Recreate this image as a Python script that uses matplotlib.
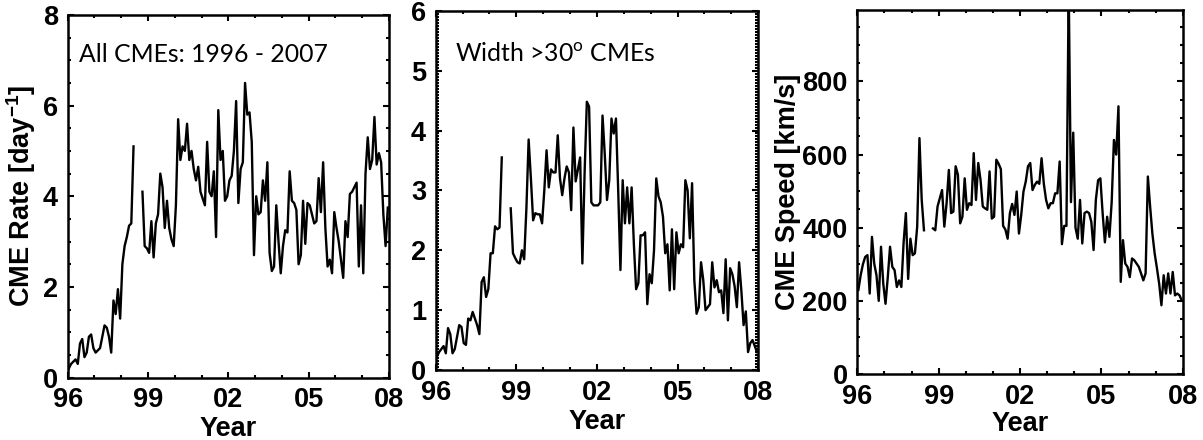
import matplotlib.pyplot as plt
import numpy as np
from matplotlib.ticker import MultipleLocator

plt.rcParams['font.family'] = ['Liberation Sans', 'DejaVu Sans']
plt.rcParams['mathtext.fontset'] = 'custom'
plt.rcParams['mathtext.rm'] = 'Lato'
plt.rcParams['mathtext.it'] = 'Lato:italic'
plt.rcParams['mathtext.bf'] = 'Liberation Sans:bold'

nan = np.nan

# monthly values, Jan 1996 - Dec 2007 (gap Jul-Sep 1998)
rate_all = [
    0.2, 0.3, 0.35, 0.4, 0.3, 0.75, 0.85, 0.45, 0.55, 0.9, 0.95, 0.65,
    0.55, 0.6, 0.65, 0.9, 1.15, 1.1, 0.9, 0.55, 1.7, 1.4, 1.95, 1.3,
    2.5, 2.9, 3.1, 3.35, 3.4, 5.1, nan, nan, nan, 4.1, 2.9, 2.85,
    2.75, 3.45, 2.65, 3.4, 3.6, 4.5, 4.2, 3.3, 3.9, 3.3, 3.05, 2.9,
    3.8, 5.7, 4.8, 5.1, 5.0, 5.6, 4.8, 5.0, 4.6, 4.35, 4.65, 4.1,
    3.95, 3.8, 5.2, 4.1, 4.0, 4.55, 3.1, 5.9, 4.8, 5.0, 3.9, 4.0,
    4.35, 4.45, 5.0, 6.1, 3.85, 4.6, 4.75, 6.5, 5.8, 5.85, 5.2, 2.7,
    4.0, 3.6, 3.65, 4.35, 3.9, 4.75, 2.75, 2.35, 2.45, 3.8, 3.0, 2.3,
    2.9, 3.25, 3.2, 4.55, 3.9, 3.85, 3.7, 2.5, 2.7, 3.9, 2.95, 3.85,
    3.8, 3.6, 3.4, 3.45, 4.4, 3.65, 4.75, 3.3, 2.45, 2.6, 2.3, 3.65,
    3.3, 3.0, 2.6, 2.2, 3.45, 3.1, 4.05, 4.1, 4.2, 4.3, 2.45, 3.8,
    2.3, 4.5, 5.3, 4.6, 4.8, 5.75, 4.7, 4.95, 4.75, 3.6, 2.9, 3.75,
]

rate_wide = [
    0.22, 0.3, 0.35, 0.4, 0.28, 0.7, 0.6, 0.28, 0.35, 0.55, 0.75, 0.72,
    0.45, 0.42, 0.86, 0.83, 0.97, 0.86, 0.75, 0.6, 1.47, 1.55, 1.22, 1.35,
    1.95, 1.95, 2.4, 2.35, 2.38, 3.55, nan, nan, nan, 2.7, 1.95, 1.87,
    1.8, 1.78, 2.0, 1.85, 2.7, 3.85, 3.2, 2.5, 2.62, 2.6, 2.6, 2.45,
    3.0, 3.67, 3.05, 3.35, 3.3, 3.3, 3.92, 3.2, 2.92, 3.2, 3.4, 3.3,
    2.67, 4.05, 3.15, 3.35, 3.55, 1.78, 3.3, 4.48, 4.4, 2.8, 2.75, 2.75,
    2.75, 2.8, 4.25, 3.6, 2.84, 3.17, 4.2, 3.95, 4.2, 3.0, 1.67, 3.17,
    2.45, 3.05, 2.45, 3.05, 2.1, 1.35, 1.45, 2.25, 2.25, 2.3, 1.1, 1.6,
    1.45, 2.0, 3.2, 2.9, 2.8, 2.56, 1.95, 2.1, 1.33, 2.35, 1.35, 2.3,
    1.95, 2.1, 2.05, 3.17, 3.0, 2.2, 3.12, 1.5, 0.94, 1.05, 1.8, 1.5,
    1.0, 1.05, 1.1, 1.8, 1.38, 1.5, 1.3, 1.33, 0.95, 1.85, 0.83, 1.7,
    1.6, 1.4, 1.05, 1.8, 1.33, 0.75, 0.98, 0.3, 0.45, 0.5, 0.4, 0.3,
]

speed = [
    230, 270, 300, 320, 325, 220, 375, 302, 270, 200, 348, 247,
    192, 265, 348, 293, 284, 238, 256, 238, 360, 440, 260, 370,
    325, 330, 403, 645, 476, 393, nan, nan, nan, 398, 393, 458,
    480, 503, 403, 467, 558, 440, 444, 568, 545, 412, 430, 535,
    449, 467, 462, 604, 476, 577, 531, 458, 453, 449, 554, 425,
    430, 586, 575, 560, 405, 395, 370, 440, 465, 435, 499, 384,
    435, 499, 526, 568, 577, 503, 517, 526, 520, 590, 520, 476,
    453, 467, 467, 494, 494, 581, 355, 405, 405, 1060, 470, 660,
    400, 370, 476, 357, 440, 444, 440, 416, 339, 476, 530, 535,
    440, 360, 430, 375, 470, 640, 600, 732, 252, 366, 302, 293,
    265, 316, 311, 302, 293, 275, 256, 275, 540, 458, 384, 330,
    290, 247, 188, 270, 220, 275, 220, 279, 215, 220, 215, 201,
]

months = 1996 + (np.arange(len(speed)) + 0.5) / 12.0
year_ticks = [1996, 1999, 2002, 2005, 2008]
year_labels = ['96', '99', '02', '05', '08']

fs = 19.5


def style(ax, ymax, major, minor, edge_labels=True):
    ax.set_xlim(1996, 2008)
    ax.set_ylim(0, ymax)
    ax.set_xticks(year_ticks)
    ax.set_xticklabels(year_labels)
    ax.xaxis.set_minor_locator(MultipleLocator(1))
    ax.yaxis.set_major_locator(MultipleLocator(major))
    ax.yaxis.set_minor_locator(MultipleLocator(minor))
    ax.tick_params(which='both', direction='in', top=True, right=True,
                   width=1.5, labelsize=fs, pad=7)
    ax.tick_params(which='major', length=4.5)
    ax.tick_params(which='minor', length=2.5)
    for s in ax.spines.values():
        s.set_linewidth(1.8)
    for lab in ax.get_xticklabels() + ax.get_yticklabels():
        lab.set_fontweight('bold')
    ticks = ax.yaxis.get_major_ticks()
    ticks[0].label1.set_va('baseline')
    if edge_labels:
        ticks[-1].label1.set_va('top')
    ax.set_xlabel('Year', fontsize=fs, fontweight='bold')


fig = plt.figure(figsize=(12.03, 4.40), dpi=100)

ax1 = fig.add_axes([0.0563, 0.142, 0.267, 0.824])
ax1.plot(months, rate_all, color='black', lw=1.7)
style(ax1, 8, 2, 0.5)
ax1.set_ylabel('CME Rate [day$^{\\mathbf{-1}}$]', fontsize=fs, fontweight='bold')
ax1.yaxis.set_label_coords(-0.094, 0.5)
ax1.xaxis.set_label_coords(0.5, -0.105)
ax1.text(0.035, 0.871, 'All CMEs: 1996 - 2007', transform=ax1.transAxes,
         family='Lato', fontsize=17.8, va='baseline')

ax2 = fig.add_axes([0.3622, 0.159, 0.268, 0.8166])
ax2.plot(months, rate_wide, color='black', lw=1.7)
style(ax2, 6, 1, 0.05)
ax2.xaxis.set_label_coords(0.5, -0.108)
ax2.text(0.06, 0.86, 'Width >30$^{\\mathrm{o}}$ CMEs', transform=ax2.transAxes,
         family='Lato', fontsize=17.8, va='baseline')

ax3 = fig.add_axes([0.7126, 0.15, 0.2707, 0.827])
ax3.plot(months, speed, color='black', lw=1.7)
style(ax3, 995, 200, 50, edge_labels=False)
ax3.set_ylabel('CME Speed [km/s]', fontsize=fs, fontweight='bold')
ax3.yaxis.set_label_coords(-0.172, 0.5)
ax3.xaxis.set_label_coords(0.5, -0.101)

fig.savefig('out.png', dpi=100)
